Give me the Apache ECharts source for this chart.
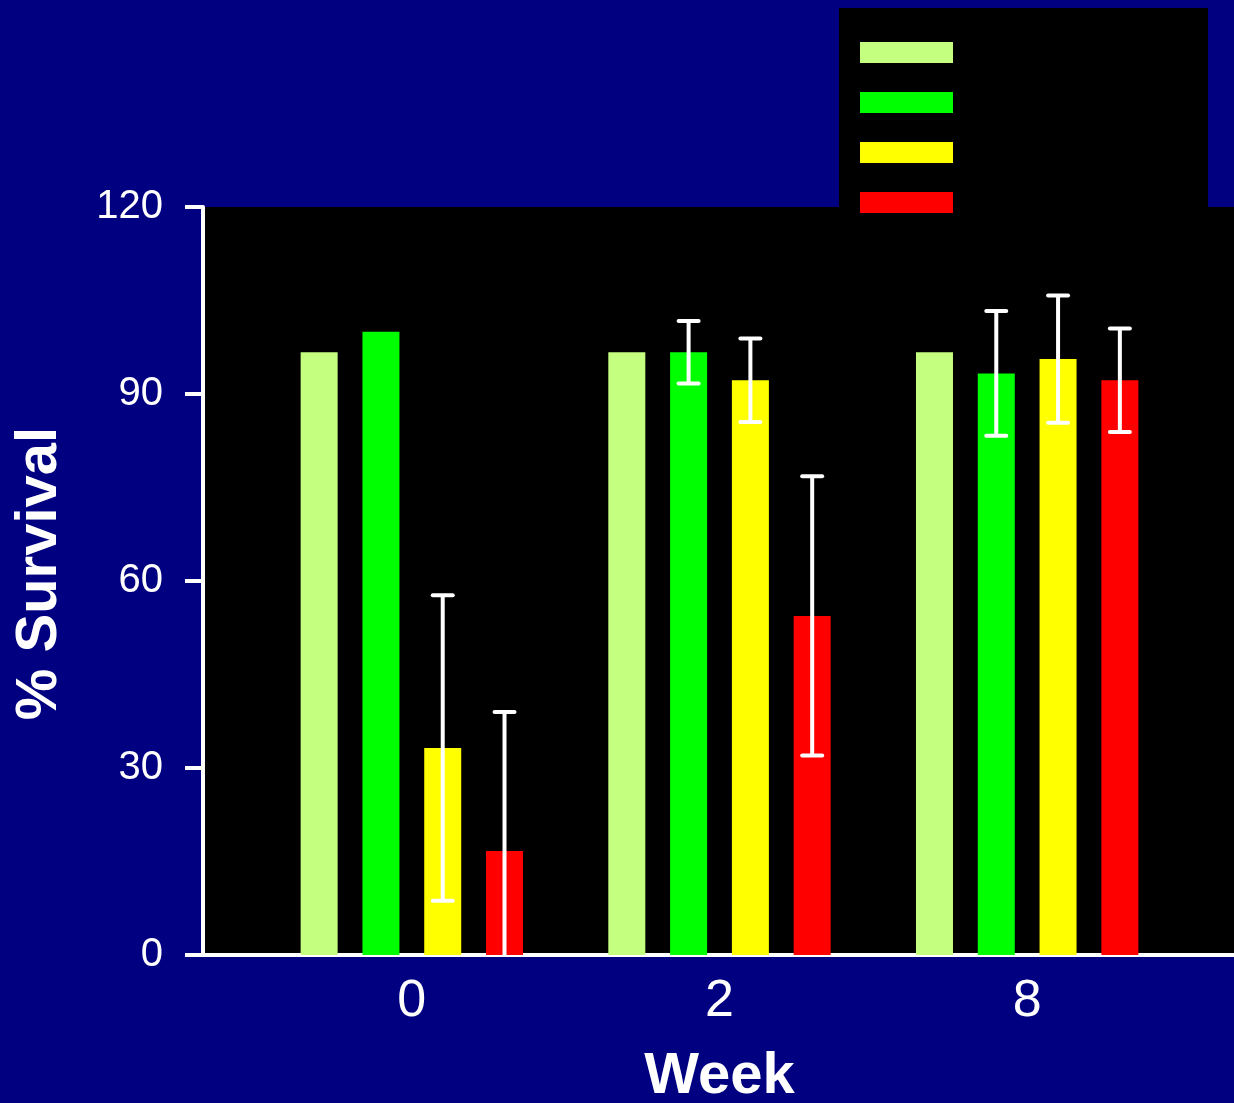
<!DOCTYPE html>
<html>
<head>
<meta charset="utf-8">
<style>
  html, body { margin: 0; padding: 0; background: #000080; }
  #chart { width: 1234px; height: 1103px; }
</style>
<script src="https://cdn.jsdelivr.net/npm/echarts@6/dist/echarts.min.js"></script>
</head>
<body>
<div id="chart"></div>
<script>
// Survival at each time point, four groups
const weeks = ['0', '2', '8'];
const seriesNames = ['A', 'B', 'C', 'D'];
const seriesColors = ['#c4ff80', '#00ff00', '#ffff00', '#ff0000'];

const valuesA = [96.7, 96.7, 96.7];
const valuesB = [100, 96.7, 93.3];
const valuesC = [33.2, 92.2, 95.6];
const valuesD = [16.7, 54.4, 92.2];

// Error half-widths (null = no error bar)
const errA = [null, null, null];
const errB = [null, 5.0, 10.0];
const errC = [24.5, 6.7, 10.2];
const errD = [22.3, 22.4, 8.3];

const yTicks = { min: 0, max: 120, interval: 30 };

const allValues = [valuesA, valuesB, valuesC, valuesD];
const allErrors = [errA, errB, errC, errD];

const BAR_W = 37;
const BAR_GAP = 0.67;

// Build error-bar records: [category, low, high, seriesIndex, hasLowerCap]
const errorData = [];
allValues.forEach((vals, s) => {
  vals.forEach((v, i) => {
    const e = allErrors[s][i];
    if (e == null) return;
    const low = v - e;
    errorData.push([i, Math.max(0, low), v + e, s, low >= 0 ? 1 : 0]);
  });
});

const chart = echarts.init(document.getElementById('chart'));

const FONT = 'Liberation Sans, Arial, sans-serif';

const barSeries = allValues.map((vals, s) => ({
  name: seriesNames[s],
  type: 'bar',
  xAxisIndex: 0,
  yAxisIndex: 0,
  data: vals,
  barWidth: BAR_W,
  barGap: (BAR_GAP * 100) + '%',
  itemStyle: { color: seriesColors[s] },
  emphasis: { disabled: true },
  z: 3
}));

const errorSeries = {
  type: 'custom',
  xAxisIndex: 0,
  yAxisIndex: 0,
  data: errorData,
  z: 5,
  silent: true,
  clip: true,
  renderItem: function (params, api) {
    const cat = api.value(0);
    const low = api.value(1);
    const high = api.value(2);
    const s = api.value(3);
    const hasLowCap = api.value(4);
    const n = seriesNames.length;
    const slot = BAR_W * (1 + BAR_GAP);
    const total = n * BAR_W + (n - 1) * BAR_GAP * BAR_W;
    const offset = -total / 2 + s * slot + BAR_W / 2;
    const top = api.coord([cat, high]);
    const bot = api.coord([cat, low]);
    const x = top[0] + offset;
    const style = { stroke: '#ffffff', lineWidth: 4, lineCap: 'round' };
    const children = [
      { type: 'line', shape: { x1: x, y1: top[1], x2: x, y2: bot[1] },
        style: { stroke: '#ffffff', lineWidth: 4, lineCap: 'butt' } },
      { type: 'line', shape: { x1: x - 10, y1: top[1], x2: x + 10, y2: top[1] }, style: style }
    ];
    if (hasLowCap) {
      children.push({ type: 'line', shape: { x1: x - 10, y1: bot[1], x2: x + 10, y2: bot[1] }, style: style });
    }
    return { type: 'group', children: children };
  }
};

// Frame series for the outer grid (axis lines only)
const frameSeries = {
  type: 'line',
  xAxisIndex: 1,
  yAxisIndex: 1,
  data: [],
  silent: true
};

chart.setOption({
  backgroundColor: '#000080',
  animation: false,
  textStyle: { fontFamily: FONT },
  graphic: [
    { type: 'rect', left: 839, top: 8, shape: { width: 369, height: 200 },
      style: { fill: '#000000' }, z: 0, silent: true }
  ],
  legend: {
    orient: 'vertical',
    left: 860,
    top: 42,
    padding: 0,
    itemWidth: 93,
    itemHeight: 21,
    itemGap: 29,
    icon: 'rect',
    selectedMode: false,
    formatter: function () { return ''; },
    data: seriesNames,
    z: 10
  },
  grid: [
    { left: 258, width: 923, top: 207, bottom: 148, containLabel: false, outerBoundsMode: 'none' },
    { left: 203, right: 0, top: 207, bottom: 148, show: true, outerBoundsMode: 'none',
      backgroundColor: '#000000', borderWidth: 0, containLabel: false }
  ],
  xAxis: [
    {
      type: 'category',
      gridIndex: 0,
      data: weeks,
      axisLine: { show: false },
      axisTick: { show: false },
      axisLabel: { color: '#ffffff', fontSize: 52, margin: 21, fontFamily: FONT },
      name: 'Week',
      nameLocation: 'middle',
      nameGap: 93,
      nameTextStyle: { color: '#ffffff', fontSize: 58, fontWeight: 'bold', fontFamily: FONT }
    },
    {
      type: 'value',
      gridIndex: 1,
      min: 0, max: 1,
      axisLine: { show: true, onZero: false, lineStyle: { color: '#ffffff', width: 4 } },
      axisTick: { show: false },
      axisLabel: { show: false },
      splitLine: { show: false }
    }
  ],
  yAxis: [
    {
      type: 'value',
      gridIndex: 0,
      min: yTicks.min, max: yTicks.max, interval: yTicks.interval,
      show: false
    },
    {
      type: 'value',
      gridIndex: 1,
      min: yTicks.min, max: yTicks.max, interval: yTicks.interval,
      axisLine: { show: true, lineStyle: { color: '#ffffff', width: 4 } },
      axisTick: { show: true, length: 18, lineStyle: { color: '#ffffff', width: 4 } },
      axisLabel: { color: '#ffffff', fontSize: 40, margin: 40, fontFamily: FONT },
      splitLine: { show: false },
      name: '% Survival',
      nameLocation: 'middle',
      nameGap: 134,
      nameTextStyle: { color: '#ffffff', fontSize: 58, fontWeight: 'bold', fontFamily: FONT,
        padding: [0, 0, 0, 15] }
    }
  ],
  series: barSeries.concat([errorSeries, frameSeries])
});
</script>
</body>
</html>
